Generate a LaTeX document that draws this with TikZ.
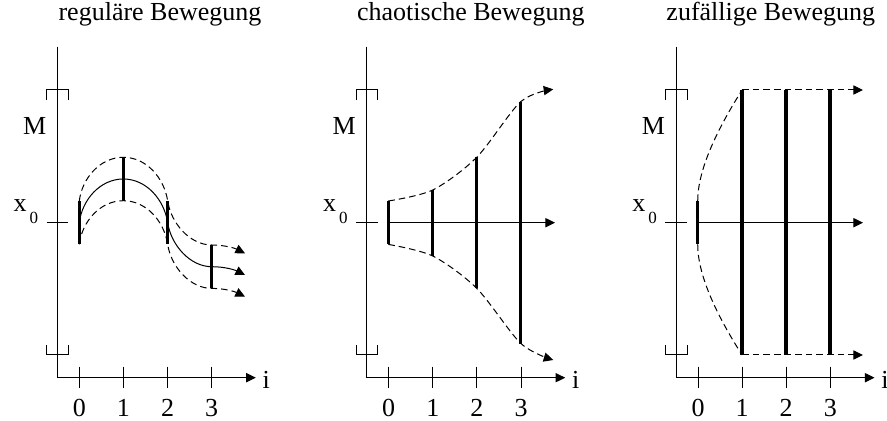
\documentclass[tikz,border=0pt]{standalone}
\usepackage{fontspec}
\setmainfont{Liberation Serif}
\usetikzlibrary{arrows.meta}

\tikzset{
  achse/.style={line width=0.5pt},
  balken/.style={line width=1.7pt},
  streu/.style={line width=0.5pt, dash pattern=on 3.3pt off 2pt},
  pfeil/.style={-{Triangle[length=4.8pt,width=4.6pt]}},
  beschr/.style={font=\fontsize{13}{15}\selectfont, inner sep=0pt},
}

\begin{document}
\begin{tikzpicture}[x=0.5pt,y=-0.5pt]
\useasboundingbox (0,0) rectangle (887,421);

% Achsen der drei Bilder
\foreach \ox/\k in {57.3/a,366.7/b,676/c}{
  \draw[achse] (\ox,46.7) -- (\ox,377.7);
  \coordinate (o-\k) at (\ox,377.7);
  \coordinate (e-\k) at (\ox+198.5,377.7);
  \draw[achse,pfeil] (o-\k) -- (e-\k);
  \node[beschr,anchor=base] (i-\k) at (\ox+209,388.3) {i};
  \foreach \n in {0,...,3}{
    \draw[achse] ({\ox+22+44.1*\n},366.7) -- ({\ox+22+44.1*\n},388.3);
    \node[beschr,anchor=base] (z-\k\n) at ({\ox+22+44.1*\n},416.5) {\n};
  }
  \draw[achse] (\ox-10.7,100) -- (\ox-10.7,90) -- (\ox+11,90) -- (\ox+11,100);
  \draw[achse] (\ox-10.7,345) -- (\ox-10.7,355) -- (\ox+11,355) -- (\ox+11,345);
  \draw[achse] (\ox-10.7,222.7) -- (\ox+11,222.7);
  \node[beschr,anchor=base] (M-\k) at (\ox-22.5,135) {M};
  \node[beschr,anchor=base west] (x-\k) at (\ox-44,212)
    {x\kern1.5pt\raisebox{-6pt}{\fontsize{8.5}{9}\selectfont 0}};
}

\node[beschr,anchor=base] (t1) at (160,20.7) {reguläre Bewegung};
\node[beschr,anchor=base] (t2) at (470.8,20.7) {chaotische Bewegung};
\node[beschr,anchor=base] (t3) at (770.8,20.7) {zufällige Bewegung};

% regulaer
\foreach \d/\s in {0/achse,-21.7/streu,21.7/streu}
  \draw[\s,pfeil,shift={(0,\d)}] (79.3,222.7)
    .. controls (82,200) and (100,179) .. (123.3,179)
    .. controls (146,179) and (164,199) .. (167.7,222.7)
    .. controls (171,245) and (190,266.7) .. (211.7,266.7)
    .. controls (225,266.7) and (235,270) .. (245,275);
\foreach \n/\y in {0/222.7,1/179,2/222.7,3/266.7}
  \draw[balken] ({79.3+44.1*\n},{\y-21.7}) -- ({79.3+44.1*\n},{\y+21.7});

% chaotisch
\draw[achse,pfeil] (388.3,222.7) -- (555,222.7);
\draw[streu,pfeil] plot[smooth] coordinates {(388.3,201) (432.7,190) (476.7,157.3) (520.7,101.7) (553.3,89.3)};
\draw[streu,pfeil] plot[smooth] coordinates {(388.3,244.4) (432.7,256) (476.7,288.3) (520.7,343.3) (553.3,360)};
\foreach \n/\h in {0/21.7,1/33,2/65.5,3/121}
  \draw[balken] ({388.3+44.1*\n},{222.7-\h}) -- ({388.3+44.1*\n},{222.7+\h});

% zufaellig
\draw[achse,pfeil] (697.7,222.7) -- (863,222.7);
\draw[streu] (697.7,201) .. controls (697.7,173.7) and (712.5,136.7) .. (742.1,90);
\draw[streu] (697.7,244.4) .. controls (697.7,271.7) and (712.5,308.7) .. (742.1,355);
\draw[streu,pfeil] (742.1,90) -- (863,90);
\draw[streu,pfeil] (742.1,355) -- (863,355);
\draw[balken] (697.7,201) -- (697.7,244.4);
\foreach \n in {1,2,3}
  \draw[balken] ({697.7+44.1*\n},90) -- ({697.7+44.1*\n},355);
\end{tikzpicture}
\end{document}
